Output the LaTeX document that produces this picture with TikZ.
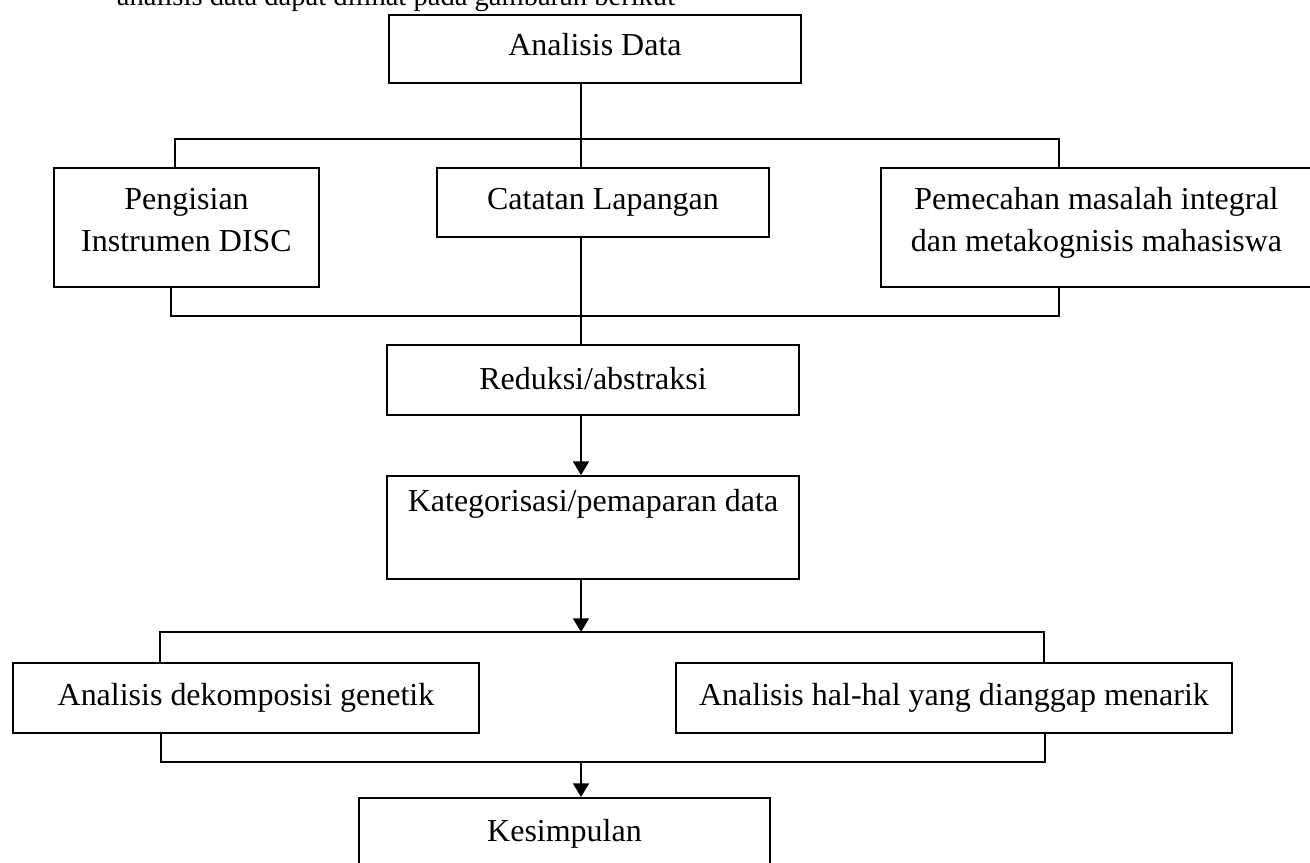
\documentclass[tikz,border=0pt]{standalone}
\usepackage{fontspec}
\setmainfont{Liberation Serif}
\usetikzlibrary{arrows.meta,positioning}

\begin{document}
\begin{tikzpicture}[x=0.0128cm,y=-0.0128cm,>={Triangle[length=5pt,width=5.8pt]},line width=0.7pt,
  every node/.style={font=\fontsize{11.65}{15.3}\selectfont},
  box/.style={draw,align=center,inner sep=0pt}]
\useasboundingbox (0,0) rectangle (1310,863);
\clip (0,0) rectangle (1310,863);
\node[anchor=base west,inner sep=0pt,font=\fontsize{10.4}{12}\selectfont] (t) at (116,5.5) {analisis data dapat dilihat pada gambaran berikut};
\node[box,minimum width=5.274cm,minimum height=0.870cm] (a) at (595,49) {Analisis Data\rule[-3.6pt]{0pt}{0pt}};
\node[box,minimum width=3.392cm,minimum height=1.523cm] (b) at (186.5,227.5) {Pengisian\\Instrumen DISC\rule[-5.8pt]{0pt}{0pt}};
\node[box,minimum width=4.250cm,minimum height=0.883cm] (c) at (603,202.5) {Catatan Lapangan};
\node[box,minimum width=5.517cm,minimum height=1.523cm] (d) at (1096.5,227.5) {Pemecahan masalah integral\\dan metakognisis mahasiswa\rule[-5.8pt]{0pt}{0pt}};
\node[box,minimum width=5.274cm,minimum height=0.896cm] (e) at (593,380) {Reduksi/abstraksi\rule[-1.5pt]{0pt}{0pt}};
\node[box,minimum width=5.274cm,minimum height=1.318cm] (f) at (593,527.5) {Kategorisasi/pemaparan data\\\strut};
\node[box,minimum width=5.965cm,minimum height=0.896cm] (g) at (246,698) {Analisis dekomposisi genetik};
\node[box,minimum width=7.117cm,minimum height=0.896cm] (h) at (954,698) {Analisis hal-hal yang dianggap menarik};
\node[box,minimum width=5.261cm,minimum height=0.922cm] (i) at (564.5,834) {Kesimpulan\rule[-1.5pt]{0pt}{0pt}};
% bus points
\coordinate (p1) at (175,139);
\coordinate (p2) at (1059,139);
\coordinate (m1) at (581,139);
\coordinate (q1) at (171,316);
\coordinate (q2) at (1059,316);
\coordinate (m2) at (581,316);
\coordinate (r1) at (160,632);
\coordinate (r2) at (1044,632);
\coordinate (m3) at (581,632);
\coordinate (s1) at (161,762);
\coordinate (s2) at (1045,762);
\coordinate (m4) at (581,762);
\draw (b.north -| p1) |- (p2) -- (d.north -| p2);
\draw (a.south -| m1) -- (c.north -| m1);
\draw (b.south -| q1) |- (q2) -- (d.south -| q2);
\draw (c.south -| m2) -- (e.north -| m2);
\draw[->] (e.south -| m2) -- (f.north -| m2);
\draw[->] (f.south -| m3) -- (m3);
\draw (g.north -| r1) |- (r2) -- (h.north -| r2);
\draw (g.south -| s1) |- (s2) -- (h.south -| s2);
\draw[->] (m4) -- (i.north -| m4);
\end{tikzpicture}
\end{document}
